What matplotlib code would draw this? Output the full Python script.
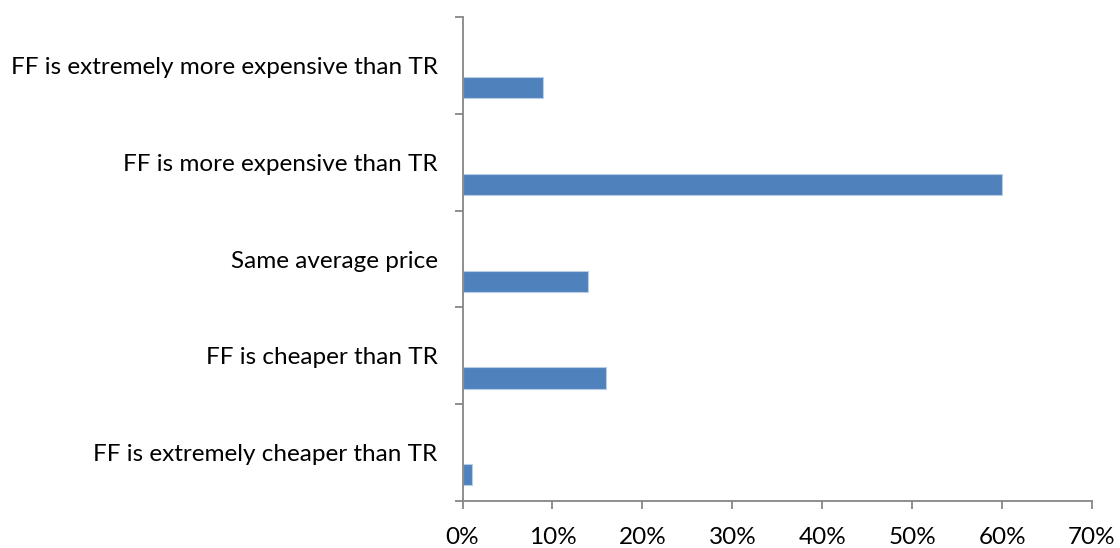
import matplotlib
matplotlib.use("Agg")
import matplotlib.pyplot as plt
from matplotlib.ticker import FixedLocator, PercentFormatter

# categories listed bottom to top
categories = [
    "FF is extremely cheaper than TR",
    "FF is cheaper than TR",
    "Same average price",
    "FF is more expensive than TR",
    "FF is extremely more expensive than TR",
]
values = [1, 16, 14, 60, 9]
x_ticks = [0, 10, 20, 30, 40, 50, 60, 70]

plt.rcParams['font.family'] = ['Lato', 'DejaVu Sans']
axis_grey = "#868686"

fig = plt.figure(figsize=(11.2, 5.48), dpi=100)
ax = fig.add_axes([0.413, 0.0858, 0.562, 0.883])

pos = list(range(len(categories)))
ax.barh([p - 0.23 for p in pos], values, height=0.22,
        color="#4F81BD", edgecolor="#B9CDE5", linewidth=0.8)

ax.set_xlim(0, 70)
ax.set_ylim(-0.5, len(categories) - 0.5)

ax.set_xticks(x_ticks)
ax.xaxis.set_major_formatter(PercentFormatter(decimals=0))
ax.set_yticks(pos)
ax.set_yticklabels(categories)
ax.yaxis.set_minor_locator(FixedLocator([p - 0.5 for p in range(len(categories) + 1)]))

ax.tick_params(axis='y', which='major', length=0, pad=18, labelsize=17.5)
ax.tick_params(axis='y', which='minor', length=6, width=1.3, color=axis_grey, direction='out')
ax.tick_params(axis='x', length=6, width=1.3, color=axis_grey, direction='out', pad=13, labelsize=17.5)

for side in ['top', 'right']:
    ax.spines[side].set_visible(False)
for side in ['left', 'bottom']:
    ax.spines[side].set_color(axis_grey)
    ax.spines[side].set_linewidth(1.3)

fig.savefig("out.png", dpi=100)
